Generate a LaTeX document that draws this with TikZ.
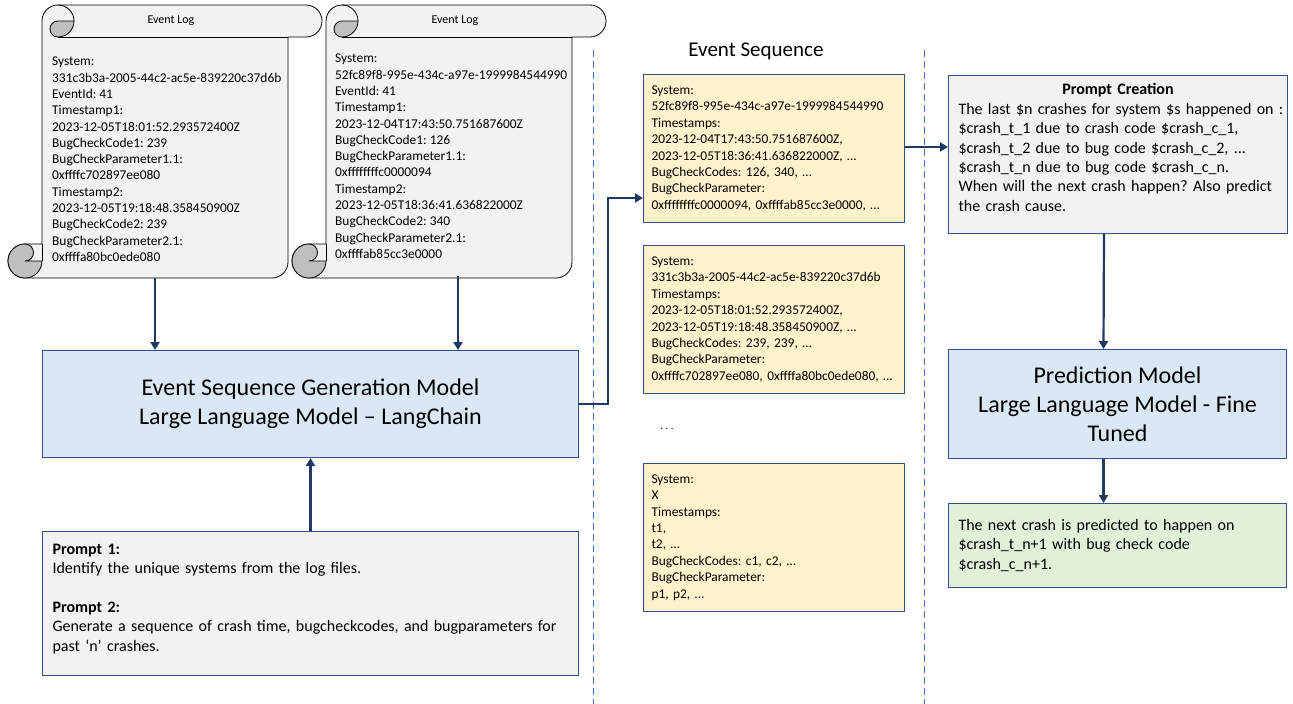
\documentclass[tikz,border=0pt]{standalone}
\usepackage{fontspec}
\setmainfont{Carlito}
\usetikzlibrary{arrows.meta}
\frenchspacing

\definecolor{boxline}{HTML}{2F528F}
\definecolor{arrowblue}{HTML}{1F3864}
\definecolor{dashblue}{HTML}{4472C4}
\definecolor{modelfill}{HTML}{DAE8F5}
\definecolor{seqfill}{HTML}{FFF2CC}
\definecolor{outfill}{HTML}{E2F0D9}
\definecolor{greyfill}{HTML}{F2F2F2}
\definecolor{rollgrey}{HTML}{BFBFBF}

\newcommand\logtext{\fontsize{13.4}{16.3}\selectfont}
\newcommand\logtitle{\fontsize{12}{14}\selectfont}
\newcommand\seqtext{\fontsize{13.4}{16.4}\selectfont}
\newcommand\prompttext{\fontsize{16}{19.4}\selectfont}
\newcommand\modeltext{\fontsize{24}{29}\selectfont}
\newcommand\headtext{\fontsize{21}{25}\selectfont}

\tikzset{
  scroll/.style={draw=black, line width=0.8pt, fill=greyfill},
  scrollline/.style={draw=black, line width=0.8pt},
  roll/.style={draw=black, line width=0.8pt, fill=rollgrey},
  model/.style={draw=boxline, line width=1pt, fill=modelfill, font=\modeltext,
    align=center, inner sep=0pt, anchor=north west},
  seqbox/.style={draw=boxline, line width=1pt, fill=seqfill, font=\seqtext,
    align=left, inner sep=0pt, anchor=north west, minimum width=261, minimum height=148,
    text width=245},
  txtbox/.style={draw=boxline, line width=1pt, font=\prompttext, align=left,
    inner sep=0pt, anchor=north west},
  flow/.style={draw=arrowblue, line width=2.2pt, -{Triangle[length=8pt,width=9pt]}},
  divider/.style={draw=dashblue, line width=0.9pt, dash pattern=on 7pt off 4pt},
  eventlog/.pic={
    \begin{scope}[yscale=-1]
    % body of the scroll
    \draw[scroll] (50,0) -- (298,0) arc[start angle=-90,end angle=90,radius=16]
      -- (280,32) -- (280,257) arc[start angle=0,end angle=90,radius=16]
      -- (17,273) arc[start angle=90,end angle=270,radius=17]
      -- (34,239) -- (34,16) arc[start angle=180,end angle=270,radius=16] -- cycle;
    \draw[scrollline] (50,32) -- (280,32);
    \draw[scrollline] (50,0) arc[start angle=-90,end angle=0,radius=16];
    \draw[scrollline] (34,239) -- (34,256);
    % rolled ends
    \draw[roll] (66,16) -- (50,16) arc[start angle=270,end angle=90,radius=8]
      arc[start angle=90,end angle=0,radius=16] -- cycle;
    \draw[roll] (34,256) arc[start angle=0,end angle=270,radius=17]
      arc[start angle=270,end angle=450,radius=8.5] -- cycle;
    \node[font=\logtitle] (-title) at (163,16) {Event Log};
    \end{scope}
  }
}

\begin{document}
\begin{tikzpicture}[x=1pt, y=1pt, yscale=-1]
  \useasboundingbox (0,0) rectangle (1293,704);

  % event logs
  \pic (logA) at (8,5) {eventlog};
  \pic (logB) at (292,5) {eventlog};
  \node[font=\logtext, align=left, inner sep=0pt, anchor=north west] (logAtext) at (52,57)
    {System:\\331c3b3a-2005-44c2-ac5e-839220c37d6b\\EventId: 41\\Timestamp1:\\
     2023-12-05T18:01:52.293572400Z\\BugCheckCode1: 239\\BugCheckParameter1.1:\\
     0xffffc702897ee080\\Timestamp2:\\2023-12-05T19:18:48.358450900Z\\
     BugCheckCode2: 239\\BugCheckParameter2.1:\\0xffffa80bc0ede080};
  \node[font=\logtext, align=left, inner sep=0pt, anchor=north west] (logBtext) at (335,54)
    {System:\\52fc89f8-995e-434c-a97e-1999984544990\\EventId: 41\\Timestamp1:\\
     2023-12-04T17:43:50.751687600Z\\BugCheckCode1: 126\\BugCheckParameter1.1:\\
     0xffffffffc0000094\\Timestamp2:\\2023-12-05T18:36:41.636822000Z\\
     BugCheckCode2: 340\\BugCheckParameter2.1:\\0xffffab85cc3e0000};
  \coordinate (logAbot) at (155,278);
  \coordinate (logBbot) at (458,276);

  % left column
  \node[model, minimum width=536, minimum height=107] (gen) at (42,350)
    {Event Sequence Generation Model\\Large Language Model – LangChain};
  \node[txtbox, fill=greyfill, minimum width=536, minimum height=144, text width=516] (prompt) at (42,531)
    {\textbf{Prompt 1:}\\Identify the unique systems from the log files.\\[19.4pt]
     \textbf{Prompt 2:}\\Generate a sequence of crash time, bugcheckcodes, and bugparameters for\\
     past ‘n’ crashes.\rule[-12pt]{0pt}{1pt}};

  \draw[flow] (logAbot) -- (logAbot |- gen.north);
  \draw[flow] (logBbot) -- (logBbot |- gen.north);
  \draw[flow] (prompt.north) -- (gen.south);

  % separators
  \draw[divider] (593,50) -- (593,704);
  \draw[divider] (924,50) -- (924,704);

  % event sequences
  \node[font=\headtext] (seqhead) at (756,51) {Event Sequence};
  \node[seqbox] (seq1) at (643,74)
    {System:\\52fc89f8-995e-434c-a97e-1999984544990\\Timestamps:\\
     2023-12-04T17:43:50.751687600Z,\\2023-12-05T18:36:41.636822000Z, …\\
     BugCheckCodes: 126, 340, …\\BugCheckParameter:\\
     0xffffffffc0000094, 0xffffab85cc3e0000, …};
  \node[seqbox] (seq2) at (643,245)
    {System:\\331c3b3a-2005-44c2-ac5e-839220c37d6b\\Timestamps:\\
     2023-12-05T18:01:52.293572400Z,\\2023-12-05T19:18:48.358450900Z, …\\
     BugCheckCodes: 239, 239, …\\BugCheckParameter:\\
     0xffffc702897ee080, 0xffffa80bc0ede080, …};
  \node[font=\fontsize{11}{13}\selectfont] (more) at (667,429) {. . .};
  \node[seqbox] (seq3) at (643,463)
    {System:\\X\\Timestamps:\\t1,\\t2, …\\BugCheckCodes: c1, c2, …\\
     BugCheckParameter:\\p1, p2, …};

  \coordinate (bend) at (608,198);
  \draw[flow] (gen.east) -| (bend) -- (bend -| seq1.west);

  % prediction column
  \node[txtbox, fill=greyfill, minimum width=339, minimum height=158, text width=319] (pc) at (948,75)
    {\makebox[\linewidth]{\textbf{Prompt Creation}}\\
     \mbox{The last \$n crashes for system \$s happened on :}\\
     \$crash\_t\_1 due to crash code \$crash\_c\_1,\\
     \$crash\_t\_2 due to bug code \$crash\_c\_2, ...\\
     \$crash\_t\_n due to bug code \$crash\_c\_n.\\
     When will the next crash happen? Also predict\\
     the crash cause.\rule[-14pt]{0pt}{1pt}};
  \node[model, minimum width=338, minimum height=109] (pred) at (948,349)
    {Prediction Model\\Large Language Model - Fine\\Tuned};
  \node[txtbox, fill=outfill, minimum width=338, minimum height=84, text width=318] (out) at (948,503)
    {The next crash is predicted to happen on\\
     \$crash\_t\_n+1 with bug check code\\
     \$crash\_c\_n+1.};

  \draw[flow] (seq1.east |- 0,147) -- (pc.west |- 0,147);
  \draw[flow] ([xshift=-14]pc.south) -- ([xshift=-14]pred.north);
  \draw[flow] ([xshift=-14]pred.south) -- ([xshift=-14]out.north);
\end{tikzpicture}
\end{document}
